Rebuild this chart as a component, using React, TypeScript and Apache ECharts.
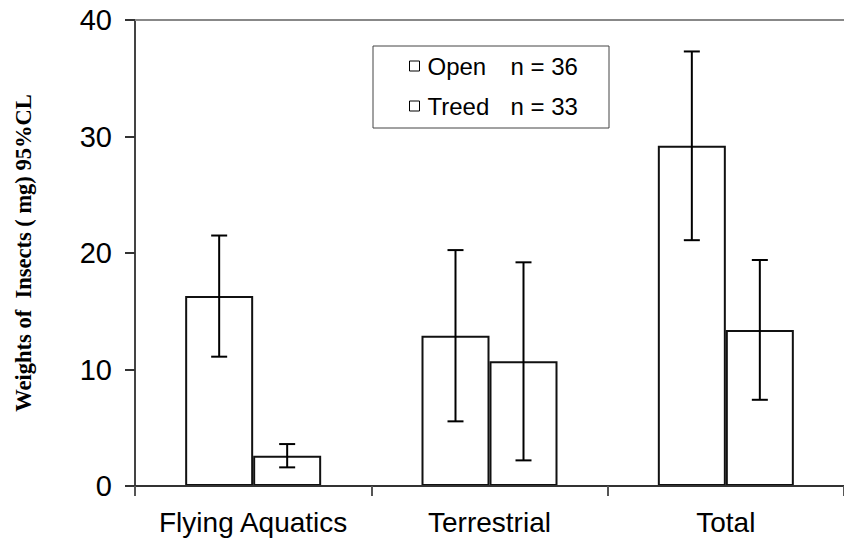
import React, { useEffect, useRef } from "react";
import * as echarts from "echarts";

// Insect weights by habitat, with 95% confidence limits
const categories = ["Flying Aquatics", "Terrestrial", "Total"];
const openMeans = [16.3, 12.9, 29.2];
const openCL = [5.2, 7.35, 8.1];
const treedMeans = [2.6, 10.7, 13.4];
const treedCL = [1.0, 8.5, 6.0];
const seriesNames = ["Open", "Treed"];
const sampleSizes = ["n = 36", "n = 33"];
const yTicks = { min: 0, max: 40, interval: 10 };

const BAR_W = 68;
const FONT = "Liberation Sans, Arial, sans-serif";

function errorSeries(means: number[], cls: number[], offset: number) {
  return {
    type: "custom",
    silent: true,
    z: 5,
    data: means.map((m, i) => [i, m - cls[i], m + cls[i]]),
    renderItem: (_params: any, api: any) => {
      const lo = api.coord([api.value(0), api.value(1)]);
      const hi = api.coord([api.value(0), api.value(2)]);
      const x = lo[0] + offset;
      const cap = 8;
      const style = { stroke: "#000", lineWidth: 2 };
      return {
        type: "group",
        children: [
          { type: "line", shape: { x1: x, y1: lo[1], x2: x, y2: hi[1] }, style },
          { type: "line", shape: { x1: x - cap, y1: lo[1], x2: x + cap, y2: lo[1] }, style },
          { type: "line", shape: { x1: x - cap, y1: hi[1], x2: x + cap, y2: hi[1] }, style },
        ],
      };
    },
  };
}

export default function App() {
  const ref = useRef<HTMLDivElement>(null);

  useEffect(() => {
    if (!ref.current) return;
    const chart = echarts.init(ref.current, undefined, { renderer: "svg" });
    const barStyle = { color: "#fff", borderColor: "#111", borderWidth: 2 };
    chart.setOption({
      animation: false,
      backgroundColor: "#fff",
      grid: { left: 135, top: 20, width: 714, height: 466 },
      legend: {
        data: seriesNames,
        orient: "vertical",
        left: 404,
        top: 48,
        itemWidth: 10,
        itemHeight: 10,
        itemGap: 14,
        icon: "rect",
        itemStyle: { color: "#fff", borderColor: "#000", borderWidth: 1 },
        formatter: (name: string) =>
          `{a|${name}}{b|${sampleSizes[seriesNames.indexOf(name)]}}`,
        textStyle: {
          fontFamily: FONT,
          fontSize: 24,
          color: "#000",
          lineHeight: 26,
          rich: {
            a: { width: 83, padding: [0, 0, 0, 3], fontSize: 24, fontFamily: FONT, color: "#000", lineHeight: 26 },
            b: { fontSize: 24, fontFamily: FONT, color: "#000", lineHeight: 26 },
          },
        },
      },
      graphic: [
        {
          type: "rect",
          shape: { x: 373, y: 46, width: 236, height: 82 },
          style: { fill: "none", stroke: "#444", lineWidth: 1 },
          z: 10,
        },
      ],
      xAxis: [
        {
          type: "category",
          data: categories,
          position: "bottom",
          axisLine: { show: true, lineStyle: { color: "#333", width: 2 } },
          axisTick: {
            show: true,
            inside: false,
            alignWithLabel: false,
            length: 10,
            interval: 0,
            lineStyle: { color: "#555", width: 2 },
          },
          axisLabel: { interval: 0, fontFamily: FONT, fontSize: 28, color: "#000", margin: 22 },
          z: 10,
        },
        {
          type: "category",
          data: categories,
          position: "top",
          axisLine: { show: true, lineStyle: { color: "#888", width: 2 } },
          axisTick: { show: false },
          axisLabel: { show: false },
        },
      ],
      yAxis: {
        type: "value",
        min: yTicks.min,
        max: yTicks.max,
        interval: yTicks.interval,
        name: "Weights of  Insects ( mg) 95%CL",
        nameLocation: "middle",
        nameGap: 100,
        nameTextStyle: {
          fontFamily: "Liberation Serif, Times New Roman, serif",
          fontWeight: "bold",
          fontSize: 22.5,
          color: "#000",
        },
        axisLine: { show: true, lineStyle: { color: "#444", width: 2 } },
        axisTick: { show: true, length: 10, lineStyle: { color: "#333", width: 2 } },
        axisLabel: { fontFamily: FONT, fontSize: 29, color: "#000", margin: 23 },
        splitLine: { show: false },
      },
      series: [
        {
          name: "Open",
          type: "bar",
          data: openMeans,
          barWidth: BAR_W,
          barGap: "0%",
          itemStyle: barStyle,
        },
        {
          name: "Treed",
          type: "bar",
          data: treedMeans,
          barWidth: BAR_W,
          barGap: "0%",
          itemStyle: barStyle,
        },
        errorSeries(openMeans, openCL, -BAR_W / 2),
        errorSeries(treedMeans, treedCL, BAR_W / 2),
      ],
    });
    return () => chart.dispose();
  }, []);

  return (
    <div
      ref={ref}
      style={{ position: "fixed", left: 0, top: 0, width: 844, height: 550 }}
    />
  );
}
